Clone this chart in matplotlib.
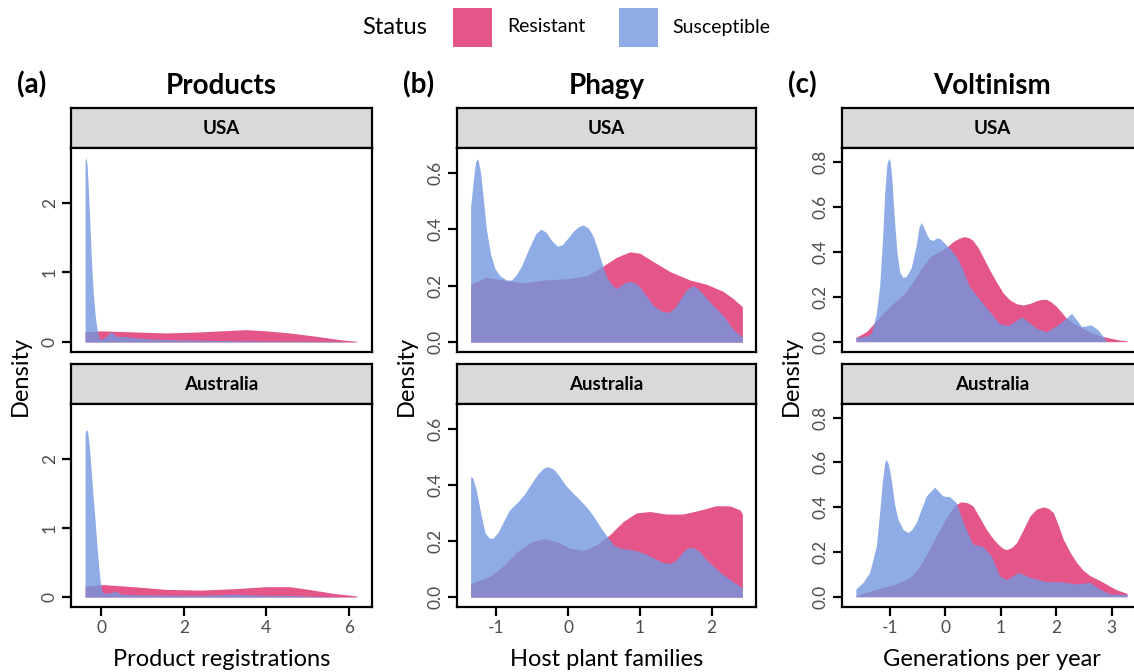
import matplotlib.pyplot as plt
from matplotlib.patches import Rectangle

plt.rcParams['font.family'] = ['Lato', 'DejaVu Sans']

W, H = 1134, 672
PINK = '#E4558A'
BLUE = '#7398E0'
GREY_TXT = '#4D4D4D'

# ---- data (density curves) ----
# (a) Products
prod_usa_res_x = [-0.39, 0.0, 0.78, 1.59, 2.4, 3.2, 3.52, 4.0, 4.57, 5.2, 5.78, 6.19]
prod_usa_res_y = [0.145, 0.16, 0.145, 0.13, 0.145, 0.169, 0.178, 0.16, 0.13, 0.082, 0.034, 0.01]
prod_usa_sus_x = [-0.39, -0.37, -0.34, -0.31, -0.28, -0.25, -0.22, -0.19, -0.15, -0.12, -0.08,
                  -0.04, 0.0, 0.12, 0.24, 0.38, 0.58, 0.78, 1.19, 1.59, 2.4, 4.0, 5.6, 6.19]
prod_usa_sus_y = [2.6, 2.66, 2.55, 2.2, 1.8, 1.37, 1.0, 0.7, 0.42, 0.265, 0.12,
                  0.05, 0.034, 0.08, 0.145, 0.08, 0.08, 0.063, 0.043, 0.034, 0.024, 0.014, 0.01, 0.0]
prod_aus_res_x = [-0.39, 0.06, 0.78, 1.59, 2.4, 3.2, 4.0, 4.57, 5.14, 5.62, 6.19]
prod_aus_res_y = [0.16, 0.18, 0.15, 0.11, 0.10, 0.12, 0.15, 0.15, 0.10, 0.053, 0.015]
prod_aus_sus_x = [-0.39, -0.36, -0.33, -0.29, -0.25, -0.19, -0.14, -0.10, -0.06, -0.02, 0.02,
                  0.06, 0.22, 0.34, 0.5, 1.19, 2.4, 3.2, 4.0, 4.57, 5.2, 6.19]
prod_aus_sus_y = [2.36, 2.42, 2.40, 2.2, 1.9, 1.42, 1.05, 0.74, 0.45, 0.21, 0.09,
                  0.053, 0.063, 0.087, 0.039, 0.029, 0.024, 0.039, 0.024, 0.024, 0.01, 0.0]

# (b) Phagy
phag_usa_res_x = [-1.36, -1.14, -0.91, -0.63, -0.35, -0.02, 0.26, 0.49, 0.67, 0.86, 1.0, 1.19,
                  1.42, 1.70, 1.93, 2.16, 2.30, 2.43]
phag_usa_res_y = [0.205, 0.23, 0.22, 0.21, 0.22, 0.225, 0.235, 0.27, 0.30, 0.32, 0.315, 0.285,
                  0.25, 0.22, 0.205, 0.18, 0.155, 0.125]
phag_usa_sus_x = [-1.36, -1.32, -1.29, -1.26, -1.22, -1.18, -1.14, -1.08, -1.02, -0.95, -0.86,
                  -0.79, -0.72, -0.65, -0.55, -0.45, -0.38, -0.31, -0.23, -0.15, -0.08, 0.0,
                  0.08, 0.15, 0.21, 0.28, 0.35, 0.41, 0.47, 0.53, 0.60, 0.67, 0.73, 0.79, 0.86,
                  0.93, 1.0, 1.10, 1.19, 1.30, 1.40, 1.48, 1.56, 1.65, 1.74, 1.81, 1.88, 1.95,
                  2.02, 2.16, 2.30, 2.43]
phag_usa_sus_y = [0.48, 0.58, 0.64, 0.65, 0.60, 0.50, 0.40, 0.31, 0.26, 0.235, 0.22,
                  0.22, 0.24, 0.27, 0.33, 0.385, 0.40, 0.39, 0.36, 0.34, 0.345, 0.37,
                  0.395, 0.41, 0.415, 0.405, 0.375, 0.33, 0.28, 0.235, 0.205, 0.19, 0.2, 0.21, 0.215,
                  0.21, 0.195, 0.16, 0.13, 0.11, 0.105, 0.12, 0.15, 0.185, 0.20, 0.19, 0.17, 0.15,
                  0.13, 0.095, 0.045, 0.018]
phag_aus_res_x = [-1.36, -1.09, -0.91, -0.72, -0.53, -0.35, -0.16, 0.02, 0.21, 0.40, 0.58, 0.77,
                  0.95, 1.14, 1.37, 1.60, 1.84, 2.07, 2.26, 2.40, 2.43]
phag_aus_res_y = [0.048, 0.074, 0.11, 0.16, 0.195, 0.208, 0.198, 0.175, 0.166, 0.187, 0.222, 0.27,
                  0.30, 0.305, 0.296, 0.296, 0.31, 0.326, 0.325, 0.31, 0.296]
phag_aus_sus_x = [-1.36, -1.33, -1.28, -1.22, -1.16, -1.10, -1.05, -0.98, -0.90, -0.82, -0.70,
                  -0.60, -0.50, -0.42, -0.34, -0.28, -0.20, -0.12, -0.04, 0.05, 0.15, 0.26,
                  0.35, 0.45, 0.56, 0.64, 0.72, 0.85, 0.95, 1.07, 1.19, 1.30, 1.42, 1.50, 1.58,
                  1.66, 1.74, 1.82, 1.93, 2.05, 2.16, 2.30, 2.43]
phag_aus_sus_y = [0.43, 0.425, 0.38, 0.30, 0.23, 0.21, 0.21, 0.23, 0.27, 0.31, 0.34,
                  0.37, 0.41, 0.44, 0.46, 0.465, 0.455, 0.43, 0.40, 0.375, 0.35, 0.32,
                  0.29, 0.25, 0.21, 0.185, 0.175, 0.17, 0.166, 0.155, 0.14, 0.125, 0.12, 0.13, 0.155,
                  0.175, 0.177, 0.165, 0.133, 0.105, 0.08, 0.055, 0.033]

# (c) Voltinism
volt_usa_res_x = [-1.61, -1.42, -1.24, -1.0, -0.76, -0.64, -0.52, -0.40, -0.28, -0.16, -0.04,
                  0.05, 0.14, 0.25, 0.35, 0.43, 0.50, 0.59, 0.68, 0.80, 0.92, 1.05, 1.17, 1.29,
                  1.41, 1.53, 1.65, 1.74, 1.83, 1.92, 2.01, 2.10, 2.19, 2.31, 2.43, 2.55, 2.67,
                  2.79, 2.91, 3.15, 3.28]
volt_usa_res_y = [0.019, 0.044, 0.093, 0.156, 0.207, 0.245, 0.29, 0.335, 0.375, 0.395, 0.41,
                  0.425, 0.444, 0.46, 0.467, 0.462, 0.45, 0.42, 0.378, 0.32, 0.267, 0.215, 0.185,
                  0.168, 0.163, 0.17, 0.182, 0.188, 0.188, 0.175, 0.156, 0.13, 0.104, 0.083, 0.067,
                  0.05, 0.037, 0.027, 0.019, 0.007, 0.004]
volt_usa_sus_x = [-1.61, -1.42, -1.33, -1.24, -1.18, -1.13, -1.09, -1.05, -1.02, -0.99, -0.96,
                  -0.92, -0.87, -0.82, -0.76, -0.70, -0.61, -0.52, -0.47, -0.43, -0.39, -0.34,
                  -0.28, -0.22, -0.16, -0.10, -0.04, 0.02, 0.10, 0.20, 0.30, 0.44, 0.68, 0.98,
                  1.14, 1.38, 1.65, 1.83, 2.07, 2.28, 2.46, 2.64, 2.76, 2.85, 2.91]
volt_usa_sus_y = [0.019, 0.025, 0.037, 0.126, 0.25, 0.45, 0.66, 0.79, 0.815, 0.80, 0.72,
                  0.56, 0.40, 0.31, 0.285, 0.29, 0.33, 0.43, 0.51, 0.53, 0.51, 0.48,
                  0.455, 0.45, 0.46, 0.46, 0.445, 0.43, 0.41, 0.38, 0.33, 0.245, 0.17, 0.08,
                  0.071, 0.111, 0.059, 0.044, 0.081, 0.126, 0.067, 0.074, 0.052, 0.022, 0.0]
volt_aus_res_x = [-1.61, -1.36, -1.12, -0.88, -0.64, -0.52, -0.40, -0.28, -0.16, -0.04, 0.08,
                  0.18, 0.29, 0.40, 0.50, 0.62, 0.74, 0.86, 0.98, 1.05, 1.11, 1.20, 1.29, 1.41,
                  1.53, 1.65, 1.77, 1.86, 1.95, 2.04, 2.13, 2.25, 2.37, 2.49, 2.61, 2.73, 2.85,
                  2.97, 3.09, 3.28]
volt_aus_res_y = [0.004, 0.024, 0.042, 0.057, 0.086, 0.115, 0.16, 0.215, 0.272, 0.325, 0.376,
                  0.41, 0.424, 0.42, 0.406, 0.355, 0.302, 0.26, 0.228, 0.215, 0.21, 0.22, 0.242,
                  0.30, 0.361, 0.392, 0.401, 0.395, 0.376, 0.32, 0.257, 0.2, 0.153, 0.118, 0.094,
                  0.08, 0.064, 0.047, 0.031, 0.015]
volt_aus_sus_x = [-1.61, -1.48, -1.36, -1.24, -1.18, -1.13, -1.09, -1.06, -1.02, -0.97, -0.91,
                  -0.85, -0.76, -0.67, -0.60, -0.52, -0.34, -0.19, -0.04, 0.08, 0.20, 0.35,
                  0.50, 0.68, 0.83, 0.98, 1.11, 1.32, 1.53, 1.83, 2.07, 2.37, 2.61, 2.79, 2.97,
                  3.28]
volt_aus_sus_y = [0.034, 0.064, 0.109, 0.228, 0.38, 0.52, 0.60, 0.614, 0.59, 0.52, 0.41,
                  0.346, 0.30, 0.287, 0.30, 0.332, 0.45, 0.49, 0.45, 0.447, 0.42, 0.317,
                  0.235, 0.224, 0.183, 0.094, 0.076, 0.109, 0.086, 0.067, 0.067, 0.057, 0.064, 0.034,
                  0.012, 0.010]

regions = ['USA', 'Australia']

fig = plt.figure(figsize=(W / 100, H / 100), dpi=100)


def px_axes(l, t, r, b):
    return fig.add_axes([l / W, 1 - b / H, (r - l) / W, (b - t) / H])


def fy(y):
    return 1 - y / H


columns = [
    dict(left=71, right=372, letter='(a)', title='Products', xlabel='Product registrations',
         xlim=(-0.73, 6.56), ylim=(-0.144, 2.79), xticks=[0, 2, 4, 6], yticks=[0, 1, 2],
         ylabels=['0', '1', '2'],
         data=[(prod_usa_res_x, prod_usa_res_y, prod_usa_sus_x, prod_usa_sus_y),
               (prod_aus_res_x, prod_aus_res_y, prod_aus_sus_x, prod_aus_sus_y)]),
    dict(left=457, right=756, letter='(b)', title='Phagy', xlabel='Host plant families',
         xlim=(-1.55, 2.62), ylim=(-0.035, 0.688), xticks=[-1, 0, 1, 2],
         yticks=[0, 0.2, 0.4, 0.6], ylabels=['0.0', '0.2', '0.4', '0.6'],
         data=[(phag_usa_res_x, phag_usa_res_y, phag_usa_sus_x, phag_usa_sus_y),
               (phag_aus_res_x, phag_aus_res_y, phag_aus_sus_x, phag_aus_sus_y)]),
    dict(left=842, right=1142, letter='(c)', title='Voltinism', xlabel='Generations per year',
         xlim=(-1.86, 3.55), ylim=(-0.046, 0.861), xticks=[-1, 0, 1, 2, 3],
         yticks=[0, 0.2, 0.4, 0.6, 0.8], ylabels=['0.0', '0.2', '0.4', '0.6', '0.8'],
         data=[(volt_usa_res_x, volt_usa_res_y, volt_usa_sus_x, volt_usa_sus_y),
               (volt_aus_res_x, volt_aus_res_y, volt_aus_sus_x, volt_aus_sus_y)]),
]

rows = [(108, 148, 352), (364, 404, 607)]  # strip top, strip bottom / panel top, panel bottom

for col in columns:
    l, r = col['left'], col['right']
    for i, (st, sb, pb) in enumerate(rows):
        # facet strip
        sax = px_axes(l, st, r, sb)
        sax.set_facecolor('#D9D9D9')
        sax.set_xticks([])
        sax.set_yticks([])
        for s in sax.spines.values():
            s.set_linewidth(1.6)
        sax.text(0.5, 0.48, regions[i], ha='center', va='center', fontsize=13.5,
                 fontweight='bold', transform=sax.transAxes)

        ax = px_axes(l, sb, r, pb)
        rx, ry, sx, sy = col['data'][i]
        ax.fill_between(rx, ry, color=PINK, lw=0)
        ax.fill_between(sx, sy, color=BLUE, alpha=0.8, lw=0)
        ax.set_xlim(*col['xlim'])
        ax.set_ylim(*col['ylim'])
        for s in ax.spines.values():
            s.set_linewidth(1.6)
        ax.set_yticks(col['yticks'])
        ax.set_yticklabels(col['ylabels'], rotation=90, va='center')
        ax.tick_params(axis='both', direction='out', length=6.5, width=1.6,
                       labelsize=12.5, labelcolor=GREY_TXT, pad=3)
        if i == 0:
            ax.set_xticks([])
        else:
            ax.set_xticks(col['xticks'])
            ax.set_xticklabels([str(t) for t in col['xticks']])

    cx = (l + r) / 2
    fig.text(cx / W, fy(86), col['title'], ha='center', va='center', fontsize=20,
             fontweight='bold')
    fig.text((l - 54) / W, fy(85), col['letter'], ha='left', va='center', fontsize=20,
             fontweight='bold')
    fig.text(cx / W, fy(659), col['xlabel'], ha='center', va='center', fontsize=17)
    fig.text((l - 51) / W, fy(376), 'Density', ha='center', va='center', rotation=90,
             fontsize=17)

# legend
fig.text(362 / W, fy(27), 'Status', ha='left', va='center', fontsize=17)
fig.patches.append(Rectangle((453 / W, fy(47)), 39 / W, 39 / H, transform=fig.transFigure,
                             color=PINK, lw=0))
fig.text(507 / W, fy(27), 'Resistant', ha='left', va='center', fontsize=14)
fig.patches.append(Rectangle((619 / W, fy(47)), 39 / W, 39 / H, transform=fig.transFigure,
                             color=BLUE, alpha=0.8, lw=0))
fig.text(672 / W, fy(27), 'Susceptible', ha='left', va='center', fontsize=14)

fig.savefig('out.png', dpi=100)
